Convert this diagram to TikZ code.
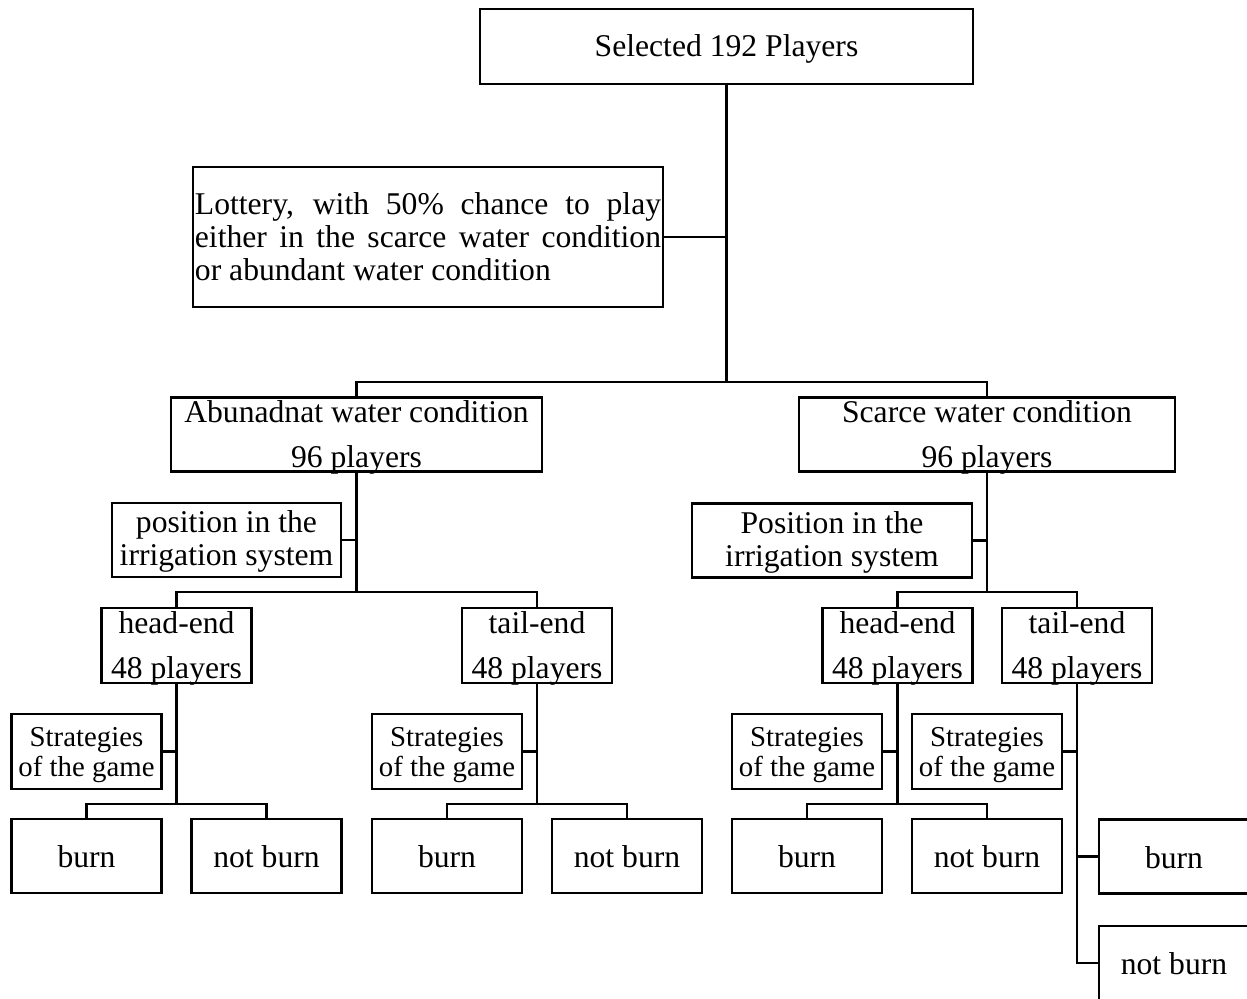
\documentclass[tikz,border=0pt]{standalone}
\usepackage{fontspec}
\setmainfont{Liberation Serif}
\usepackage{tikz}
\newcommand\wideline{\fontsize{22.5}{32.5}\selectfont}
\newcommand\tightline{\fontsize{22.5}{23.4}\selectfont}
\newcommand\smallline{\fontsize{20.5}{21.5}\selectfont}
\newcommand\lotteryline{\tightline\hyphenpenalty=10000\tolerance=10000}

\begin{document}
\begin{tikzpicture}[x=0.025cm, y=-0.025cm, line width=1.9pt,
	box/.style={draw, rectangle, inner sep=1pt, align=center},
	groupbox/.style={box, font=\wideline, text height=52.1pt, inner ysep=-3pt, minimum height=1.85cm},
	posbox/.style={box, font=\tightline, text height=41.6pt, minimum height=1.85cm},
	endbox/.style={box, font=\wideline, text height=52.1pt, inner ysep=-3pt, minimum width=3.75cm, minimum height=1.875cm},
	stratbox/.style={box, font=\smallline, text height=40.5pt, minimum width=3.75cm, minimum height=1.875cm},
	leafbox/.style={box, font=\tightline, text height=16.8pt, minimum width=3.75cm, minimum height=1.85cm}]
				\clip (0,0) rectangle (1247,998);
				\node [box, font=\tightline, text height=19.6pt, minimum width=12.325cm, minimum height=1.875cm] (top) at (726.5,46.5) {Selected 192 Players};
				\node [box, font=\lotteryline, text width=11.65cm, align=justify, inner sep=0.05cm, minimum height=3.5cm] (lottery) at (428,237) {Lottery, with 50\% chance to play\linebreak either in the scarce water condition\linebreak or abundant water condition};
				\node [groupbox, minimum width=9.275cm] (abund) at (356.5,434.5) {Abunadnat water condition\\96 players};
				\node [groupbox, minimum width=9.4cm] (scarce) at (987,434.5) {Scarce water condition\\96 players};
				\node [posbox, minimum width=5.725cm] (posab) at (226.5,540) {position in the\\irrigation system};
				\node [posbox, minimum width=7cm] (possc) at (832,540.5) {Position in the\\irrigation system};
				\node [endbox] (headab) at (176.5,645.5) {head-end\\48 players};
				\node [endbox] (tailab) at (537,645.5) {tail-end\\48 players};
				\node [endbox] (headsc) at (897.5,645.5) {head-end\\48 players};
				\node [endbox] (tailsc) at (1077,645.5) {tail-end\\48 players};
				\node [stratbox] (stratha) at (86.5,751.5) {Strategies\\of the game};
				\node [stratbox] (strotta) at (447,751.5) {Strategies\\of the game};
				\node [stratbox] (strathsc) at (807,751.5) {Strategies\\of the game};
				\node [stratbox] (strattsc) at (987,751.5) {Strategies\\of the game};
				\node [leafbox] (burnha) at (86.5,856) {burn};
				\node [leafbox] (notha) at (266.5,856) {not burn};
				\node [leafbox] (burnta) at (447,856) {burn};
				\node [leafbox] (notta) at (627,856) {not burn};
				\node [leafbox] (burnhs) at (807,856) {burn};
				\node [leafbox] (noths) at (987,856) {not burn};
				\node [leafbox] (burnts) at (1174,856.5) {burn};
				\node [leafbox] (notts) at (1174,963) {not burn};
				\coordinate (split) at (726.5,382);
				\coordinate (splitab) at (356.5,592);
				\coordinate (splitsc) at (987,592);
				\coordinate (splitha) at (176.5,804);
				\coordinate (splitta) at (537,804);
				\coordinate (spliths) at (897.5,804);
				\draw (top) -- (split);
				\draw (lottery.east) -- (lottery.east -| split);
				\draw (abund.north) |- (split) -| (scarce.north);
				\draw (abund) -- (splitab);
				\draw (scarce) -- (splitsc);
				\draw (posab.east) -- (posab.east -| splitab);
				\draw (possc.east) -- (possc.east -| splitsc);
				\draw (headab.north) |- (splitab) -| (tailab.north);
				\draw (headsc.north) |- (splitsc) -| (tailsc.north);
				\draw (headab) -- (splitha);
				\draw (tailab) -- (splitta);
				\draw (headsc) -- (spliths);
				\draw (stratha.east) -- (stratha.east -| splitha);
				\draw (strotta.east) -- (strotta.east -| splitta);
				\draw (strathsc.east) -- (strathsc.east -| spliths);
				\draw (strattsc.east) -- (strattsc.east -| tailsc.south);
				\draw (burnha.north) |- (splitha) -| (notha.north);
				\draw (burnta.north) |- (splitta) -| (notta.north);
				\draw (burnhs.north) |- (spliths) -| (noths.north);
				\draw (tailsc.south) |- (notts.west);
				\draw (burnts.west) -- (burnts.west -| tailsc.south);
			\end{tikzpicture}
\end{document}
